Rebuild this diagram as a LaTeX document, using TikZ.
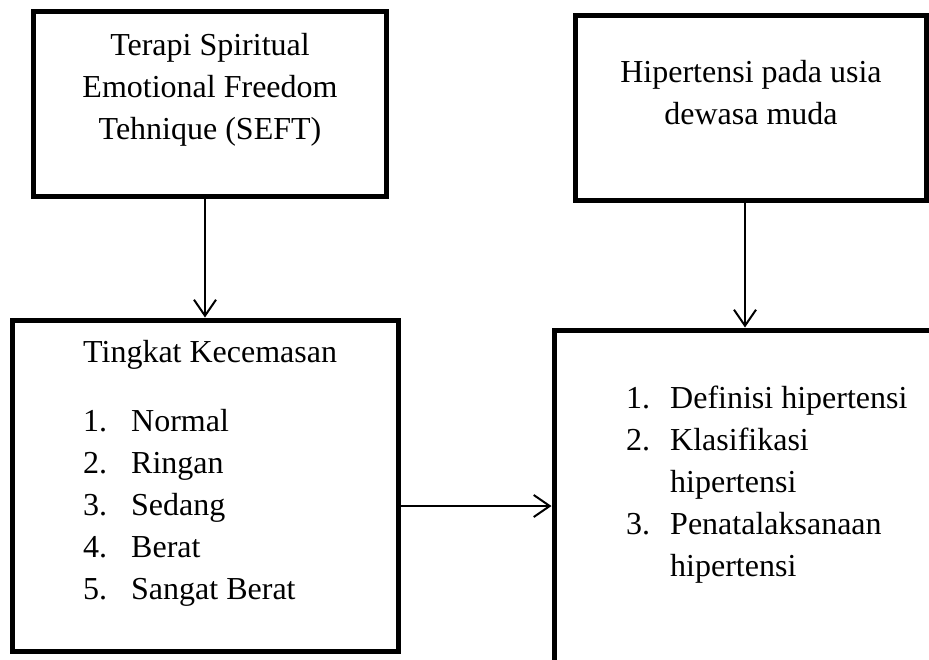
\documentclass[tikz,border=0pt]{standalone}
\usepackage{fontspec}
\setmainfont{Liberation Serif}
\usetikzlibrary{arrows.meta,calc}
\begin{document}
\begin{tikzpicture}[x=1pt,y=-1pt,
  box/.style={draw=black,line width=5pt,rectangle,inner sep=0pt},
  arr/.style={draw=black,line width=2pt,-{Straight Barb[length=16pt,width=22pt,line width=2pt]}},
  txt/.style={inner sep=0pt,font=\fontsize{32}{42}\selectfont},
  lt/.style={txt,anchor=base west},
  ct/.style={txt,anchor=base}]
\useasboundingbox (0,0) rectangle (929,659);
\clip (0,0) rectangle (929,659);
\fill[white] (0,0) rectangle (929,659);
% boxes
\node[box,minimum width=353pt,minimum height=185pt] (b1) at (209.5,103.5) {};
\node[box,minimum width=351pt,minimum height=185pt] (b2) at (750.5,107.5) {};
\node[box,minimum width=386pt,minimum height=331pt] (b3) at (205,485.5) {};
\node[box,minimum width=446pt,minimum height=370pt] (b4) at (777,515) {};
% box 1 text
\node[ct] (t1a) at (210,55) {Terapi Spiritual};
\node[ct] (t1b) at (210,97) {Emotional Freedom};
\node[ct] (t1c) at (210,139) {Tehnique (SEFT)};
% box 2 text
\node[ct] (t2a) at (751,82) {Hipertensi pada usia};
\node[ct] (t2b) at (751,124) {dewasa muda};
% box 3 text
\node[lt] (t3h) at (83,362) {Tingkat Kecemasan};
\node[lt] (n1) at (83,431) {1.};
\node[lt] (i1) at (131,431) {Normal};
\node[lt] (n2) at (83,473) {2.};
\node[lt] (i2) at (131,473) {Ringan};
\node[lt] (n3) at (83,515) {3.};
\node[lt] (i3) at (131,515) {Sedang};
\node[lt] (n4) at (83,557) {4.};
\node[lt] (i4) at (131,557) {Berat};
\node[lt] (n5) at (83,599) {5.};
\node[lt] (i5) at (131,599) {Sangat Berat};
% box 4 text
\node[lt] (m1) at (626,408) {1.};
\node[lt] (j1) at (670,408) {Definisi hipertensi};
\node[lt] (m2) at (626,450) {2.};
\node[lt] (j2) at (670,450) {Klasifikasi};
\node[lt] (j2b) at (670,492) {hipertensi};
\node[lt] (m3) at (626,534) {3.};
\node[lt] (j3) at (670,534) {Penatalaksanaan};
\node[lt] (j3b) at (670,576) {hipertensi};
% connectors
\draw[arr] (b1.south -| b3.north) -- (b3.north);
\draw[arr] ([xshift=-5.5pt]b2.south) -- ([xshift=-5.5pt]b2.south |- b4.north);
\draw[arr] ([yshift=-20.5pt]b3.east) -- ([yshift=-20.5pt]b3.east -| b4.west);
\end{tikzpicture}
\end{document}
